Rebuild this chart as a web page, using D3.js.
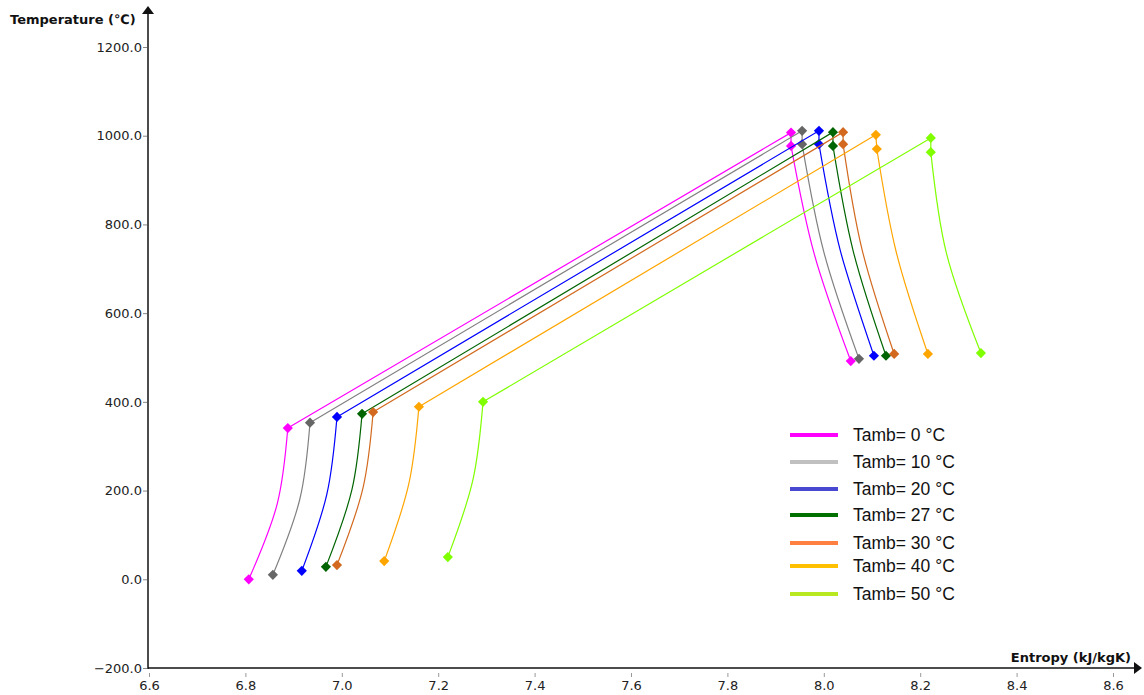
<!DOCTYPE html>
<html>
<head>
<meta charset="utf-8">
<script src="https://cdn.jsdelivr.net/npm/d3@7"></script>
<style>
  body { margin: 0; background: #fff; }
  svg { display: block; font-family: 'Liberation Sans', Arial, sans-serif; }
</style>
</head>
<body>
<div id="chart"></div>
<script>
const width = 1144
const height = 695

// ambient temperatures of the cycles
const ambients = [0, 10, 20, 27, 30, 40, 50]

// line colours (plot) and the lighter ones shown in the legend
const lineColors = ['#ff00ff', '#808080', '#0000ff', '#006400', '#d2691e', '#ffa500', '#7fff00']
const markColors = ['#ff00ff', '#666666', '#0000ff', '#006400', '#d2691e', '#ffa500', '#7fff00']
const legendColors = ['#ff00ff', '#c0c0c0', '#4848d0', '#007000', '#ff8040', '#ffc000', '#b8e820']

// entropy (kJ/kgK) and temperature (°C) of the state points, per cycle
// order: 1 compressor inlet, (curve), 2 compressor outlet, 3 max, 4 turbine inlet, (curve), 5 outlet
const entropy0 = [6.807, 6.866, 6.888, 7.932, 7.932, 7.980, 8.056]
const temp0 = [0, 170, 341, 1007, 977, 734, 492]
const entropy10 = [6.857, 6.913, 6.934, 7.955, 7.955, 8.000, 8.073]
const temp10 = [10, 181, 353, 1011, 981, 738, 497]
const entropy20 = [6.917, 6.969, 6.990, 7.990, 7.990, 8.034, 8.104]
const temp20 = [19, 192, 366, 1011, 981, 742, 504]
const entropy27 = [6.967, 7.021, 7.042, 8.019, 8.019, 8.061, 8.129]
const temp27 = [28, 202, 373, 1008, 977, 740, 504]
const entropy30 = [6.990, 7.044, 7.065, 8.040, 8.040, 8.079, 8.146]
const temp30 = [32, 206, 377, 1008, 981, 745, 508]
const entropy40 = [7.088, 7.139, 7.160, 8.108, 8.110, 8.150, 8.216]
const temp40 = [41, 215, 389, 1002, 970, 739, 508]
const entropy50 = [7.220, 7.272, 7.293, 8.222, 8.222, 8.254, 8.326]
const temp50 = [50, 224, 400, 995, 963, 737, 510]

const entropies = [entropy0, entropy10, entropy20, entropy27, entropy30, entropy40, entropy50]
const temps = [temp0, temp10, temp20, temp27, temp30, temp40, temp50]

const xTicks = [6.6, 6.8, 7.0, 7.2, 7.4, 7.6, 7.8, 8.0, 8.2, 8.4, 8.6]
const yTicks = [-200, 0, 200, 400, 600, 800, 1000, 1200]

const series = ambients.map((a, i) => ({
  name: `Tamb= ${a} °C`,
  index: i,
  values: entropies[i].map((s, j) => ({ s, t: temps[i][j] }))
}))

const x = d3.scaleLinear().domain([6.6, 8.6]).range([149, 1113])
const y = d3.scaleLinear().domain([-200, 1200]).range([668, 47])

const svg = d3.select('#chart').append('svg')
  .attr('width', width)
  .attr('height', height)

// axes
const yAxis = d3.axisLeft(y).tickValues(yTicks).tickSize(4).tickPadding(1)
  .tickFormat(d3.format('.1f'))
const xAxis = d3.axisBottom(x).tickValues(xTicks).tickSize(4).tickPadding(4)
  .tickFormat(d3.format('.1f'))

svg.append('g')
  .attr('transform', 'translate(147,0)')
  .call(yAxis)
  .call(g => g.select('.domain').remove())
  .call(g => g.selectAll('line').attr('stroke', '#888'))
  .call(g => g.selectAll('text').attr('fill', '#222').attr('font-size', 13)
    .attr('font-family', 'DejaVu Sans'))

svg.append('g')
  .attr('transform', 'translate(0,673)')
  .call(xAxis)
  .call(g => g.select('.domain').remove())
  .call(g => g.selectAll('line').attr('stroke', '#999'))
  .call(g => g.selectAll('text').attr('fill', '#222').attr('font-size', 13)
    .attr('font-family', 'DejaVu Sans'))

// axis lines with arrows
svg.append('line')
  .attr('x1', 148).attr('x2', 148).attr('y1', 669).attr('y2', 12)
  .attr('stroke', '#111').attr('stroke-width', 1.5)
svg.append('path')
  .attr('d', 'M142,14 L148,6 L154,14 Z').attr('fill', '#111')
svg.append('line')
  .attr('x1', 148).attr('x2', 1136).attr('y1', 668).attr('y2', 668)
  .attr('stroke', '#111').attr('stroke-width', 1.5)
svg.append('path')
  .attr('d', 'M1134,662 L1142,668 L1134,674 Z').attr('fill', '#111')

svg.append('text')
  .attr('x', 10).attr('y', 24)
  .attr('font-family', 'DejaVu Sans')
  .attr('font-size', 13).attr('font-weight', 'bold').attr('fill', '#111')
  .text('Temperature (℃)')
svg.append('text')
  .attr('x', 1131).attr('y', 662).attr('text-anchor', 'end')
  .attr('font-family', 'DejaVu Sans')
  .attr('font-size', 13).attr('font-weight', 'bold').attr('fill', '#111')
  .text('Entropy (kJ/kgK)')

// cycle lines
const curved = d3.line().x(d => x(d.s)).y(d => y(d.t)).curve(d3.curveCatmullRom.alpha(0.5))
const straight = d3.line().x(d => x(d.s)).y(d => y(d.t))

const cycles = svg.append('g').selectAll('g')
  .data(series)
  .join('g')
  .attr('class', d => `line line-${d.index}`)

cycles.append('path')
  .attr('d', d => curved(d.values.slice(0, 3)))
  .attr('fill', 'none').attr('stroke', d => lineColors[d.index]).attr('stroke-width', 1.2)
cycles.append('path')
  .attr('d', d => straight(d.values.slice(2, 5)))
  .attr('fill', 'none').attr('stroke', d => lineColors[d.index]).attr('stroke-width', 1.2)
cycles.append('path')
  .attr('d', d => curved(d.values.slice(4, 7)))
  .attr('fill', 'none').attr('stroke', d => lineColors[d.index]).attr('stroke-width', 1.2)

const diamond = d3.symbol().type(d3.symbolSquare).size(52)
cycles.selectAll('path.mark')
  .data(d => d.values.filter((v, j) => j !== 1 && j !== 5).map(v => ({ ...v, index: d.index })))
  .join('path')
  .attr('class', 'mark')
  .attr('d', diamond)
  .attr('transform', d => `translate(${x(d.s)},${y(d.t)}) rotate(45)`)
  .attr('fill', d => markColors[d.index])

// legend
const legendY = [435, 462, 489, 515, 543, 566, 594]
const legend = svg.append('g').selectAll('g')
  .data(series)
  .join('g')
  .attr('transform', (d, i) => `translate(790,${legendY[i]})`)
legend.append('line')
  .attr('x1', 0).attr('x2', 48).attr('y1', 0).attr('y2', 0)
  .attr('stroke', d => legendColors[d.index]).attr('stroke-width', 4)
legend.append('text')
  .attr('x', 63).attr('y', 6)
  .attr('font-size', 17.5).attr('fill', '#111')
  .text(d => d.name)
</script>
</body>
</html>
